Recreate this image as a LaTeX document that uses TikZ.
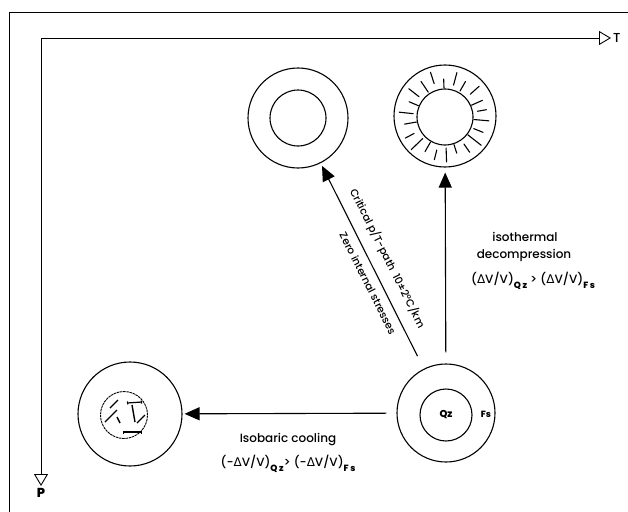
\documentclass[tikz,border=0pt]{standalone}
\usepackage{fontspec}
\setmainfont{Poppins Medium}
\newfontfamily\symbfont{DejaVu Sans}
\usetikzlibrary{arrows.meta}

% volume change and subscripts for the two minerals
\newcommand{\dlt}{{\symbfont Δ}}
\newcommand{\mn}[1]{\raisebox{-0.7ex}{\fontsize{9}{9}\selectfont\bfseries #1}}

\begin{document}
\begin{tikzpicture}[x=1pt, y=-1pt,
    ring/.style={circle, draw, line width=1.1pt, inner sep=0pt},
    move/.style={line width=1.1pt, -{Triangle[length=15pt,width=13pt]}},
    axis/.style={line width=0.9pt, {Triangle[open,length=12pt,width=14pt]}-{Triangle[open,length=12pt,width=14pt]}},
    lbl/.style={font=\fontsize{12}{14}\selectfont, inner sep=1pt},
    slbl/.style={font=\fontsize{10.5}{12}\selectfont, inner sep=1pt},
    crack/.style={line width=1.1pt, line cap=round},
    xtal/.style={line width=1.2pt, {Bar[width=3pt]}-{Bar[width=3pt]}}]

\useasboundingbox (0,0) rectangle (628,511);

% outer frame
\draw [line width=0.9pt] (9,530) -- (9,12) -- (640,12);

% P-T axes
\coordinate (O) at (41,38);
\coordinate (Tend) at (611,38);
\coordinate (Pend) at (41,486);

\draw [axis] (Tend) -- (O) -- (Pend);

\node (T) at (Tend) [right, inner sep=2pt, font=\fontsize{13}{13}\selectfont] {T};
\node (P) at (Pend) [below, inner sep=2pt, font=\fontsize{13}{13}\selectfont\bfseries] {P};



% starting grain: quartz inclusion in feldspar
\node (rock) at (446,413) [ring, minimum size=98pt] {};
\node (qz) at (446,415) [ring, minimum size=52pt, font=\fontsize{10}{10}\selectfont\bfseries] {Qz};
\node (fs) at (486,414) [font=\fontsize{9}{9}\selectfont\bfseries, inner sep=0pt] {Fs};

% critical path, no stresses
\node (free) at (298,118) [ring, minimum size=100pt] {};
\node (freein) at (298,118) [ring, minimum size=56pt] {};

% decompression, radial cracks
\node (dec) at (445,116) [ring, minimum size=102pt] {};
\node (decin) at (445,117) [ring, minimum size=56pt] {};

\foreach \a/\r/\s in {5/29/44, 22/31/41, 38/29/46, 55/33/43, 72/29/38, 88/31/45, 104/34/44, 120/29/40,
                      136/31/47, 152/35/45, 170/29/41, 186/32/46, 203/29/39, 218/33/46, 236/30/43,
                      252/35/47, 268/29/38, 285/33/46, 300/30/41, 318/34/46, 336/29/41, 350/33/42}
  \draw [crack] ([shift={(\a:\r)}]decin.center) -- ([shift={(\a:\s)}]decin.center);

% isobaric cooling, crystals in the inclusion
\node (cool) at (130,414) [ring, minimum size=104pt] {};
\node (grain) at (124,415) [ring, line width=0.9pt, dash pattern=on 2.5pt off 0.7pt, minimum size=47pt] {};

\draw [line width=1.4pt] (110,408) -- (118,400);
\draw [line width=1.4pt] (105,422) -- (117,410);
\draw [xtal] (127,403) -- (142,402);
\draw [line width=1.4pt] (132,405) -- (135,422);
\draw [line width=1.4pt] (137,423) -- (145,415);
\draw [xtal] (123,432) -- (142,432);
\draw [line width=1.4pt] (117,417) -- (120,423);



% paths
\draw [move, shorten <=10pt, shorten >=2pt] (rock) -- (cool);

\draw [move, shorten <=11pt, shorten >=5pt] (rock) -- (dec);

\draw [move, shorten <=14pt, shorten >=3pt] (rock) -- (free)
  node [slbl, pos=0.5, sloped, above=9pt] {Critical p/T-path\enspace 10±2°C/km}
  node [slbl, pos=0.44, sloped, below=6pt] {Zero internal stresses};



% labels
\node (isoT) at (525,237) [lbl] {isothermal};
\node (decomp) at (524,255) [lbl] {decompression};
\node (dVdec) at (533,281) [lbl] {(\dlt V/V)\mn{Q\,z} > (\dlt V/V)\mn{F\,s}};

\node (isoP) at (288,440) [lbl] {Isobaric cooling};
\node (dVcool) at (288,464) [lbl] {(-\dlt V/V)\mn{Q\,z}> (-\dlt V/V)\mn{F\,s}};


\end{tikzpicture}
\end{document}
